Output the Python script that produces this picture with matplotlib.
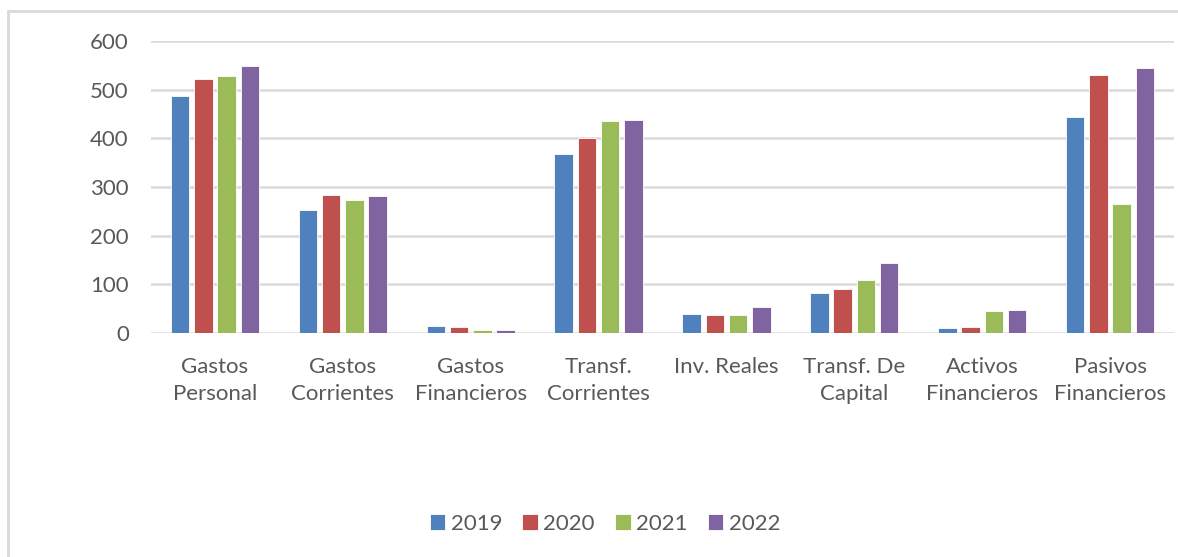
import numpy as np
import matplotlib.pyplot as plt
from matplotlib.patches import Rectangle

# --- data ---
categories = ["Gastos\nPersonal", "Gastos\nCorrientes", "Gastos\nFinancieros",
              "Transf.\nCorrientes", "Inv. Reales", "Transf. De\nCapital",
              "Activos\nFinancieros", "Pasivos\nFinancieros"]
years = ["2019", "2020", "2021", "2022"]
v2019 = [487, 253, 14, 367, 39, 83, 11, 443]
v2020 = [521, 283, 12, 400, 37, 90, 13, 530]
v2021 = [529, 273, 7, 435, 36, 108, 45, 265]
v2022 = [549, 282, 7, 438, 54, 144, 48, 545]
yticks = [0, 100, 200, 300, 400, 500, 600]

colors = ['#4f81bd', '#c0504d', '#9bbb59', '#8064a2']
text_color = '#595959'

plt.rcParams.update({
    "font.family": ["Lato", "DejaVu Sans"],
    "font.size": 16,
})

fig = plt.figure(figsize=(11.78, 5.57), dpi=100)
ax = fig.add_axes([151 / 1178, 1 - 333 / 557, (1174 - 151) / 1178, (333 - 41) / 557])

# chart area frame
fig.patches.append(Rectangle((8 / 1178, -0.1), 1.2, 1 - 11 / 557 + 0.1,
                             transform=fig.transFigure, fill=False,
                             edgecolor='#d9d9d9', linewidth=2))

x = np.arange(len(categories))
pitch = 0.182
width = 0.145
for i, (vals, yr) in enumerate(zip([v2019, v2020, v2021, v2022], years)):
    ax.bar(x + (i - 1.5) * pitch, vals, width, color=colors[i], label=yr,
           edgecolor='white', linewidth=0.6, zorder=3)

ax.set_xlim(-0.5, len(categories) - 0.5)
ax.set_ylim(0, 600)
ax.set_yticks(yticks)
ax.set_xticks(x)
ax.set_xticklabels(categories, linespacing=1.45)
ax.tick_params(axis='both', length=0, colors=text_color, labelsize=16)
ax.tick_params(axis='y', pad=16)
ax.tick_params(axis='x', pad=17)

ax.grid(axis='y', color='#d9d9d9', linewidth=1.8, zorder=0)
for s in ax.spines.values():
    s.set_visible(False)

leg = fig.legend(loc='center', bbox_to_anchor=(605 / 1178, 1 - 524 / 557), ncol=4,
                 frameon=False, handlelength=0.7, handleheight=0.7,
                 handletextpad=0.25, columnspacing=0.9, fontsize=16)
for t in leg.get_texts():
    t.set_color(text_color)

fig.savefig("out.png", dpi=100)
